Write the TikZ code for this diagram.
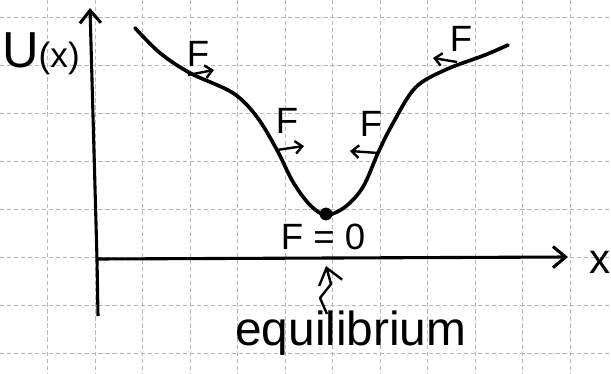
\documentclass[tikz,border=0pt]{standalone}
\usepackage{fontspec}
\setmainfont{Liberation Sans}
\usetikzlibrary{arrows.meta, positioning}
\definecolor{gridGray}{RGB}{185,185,185}

\begin{document}
\begin{tikzpicture}[
    x=0.025cm, y=-0.025cm,
    gridline/.style={gridGray, dash pattern=on 3pt off 2pt, line width=0.5pt},
    axis/.style={line width=2.2pt, -{Straight Barb[length=9pt, width=15pt]}},
    curve/.style={line width=2.6pt, line cap=round},
    force/.style={line width=1.7pt, -{Straight Barb[length=5pt, width=9pt]}},
    pointer/.style={line width=1.7pt, line join=round, -{Straight Barb[length=11pt, width=17pt]}},
    lbl/.style={inner sep=0pt, font=\fontsize{26}{26}\selectfont},
  ]
    \useasboundingbox (0,0) rectangle (611,374);

    % grid paper
    \foreach \gx in {1,...,12}
      \draw[gridline] (47.5*\gx,0) -- (47.5*\gx,374);
    \foreach \gy in {0,...,7}
      \draw[gridline] (0,17+48*\gy) -- (611,17+48*\gy);

    % axes
    \coordinate (orig) at (97,259);
    \coordinate (ytop) at (90,8);
    \coordinate (ybot) at (98,316);
    \coordinate (xtip) at (568,257);
    \draw[line width=2.2pt] (ybot) -- (orig);
    \draw[axis] (orig) -- (ytop);
    \draw[axis] (orig) -- (xtip);

    \node[anchor=base east, inner sep=0pt] (ulbl) at (80,68)
         {{\fontsize{36}{36}\selectfont U}{\fontsize{25}{25}\selectfont (x)}};
    \node[anchor=base, inner sep=0pt, font=\fontsize{30}{30}\selectfont] (xlbl) at (600,273) {x};

    % potential curve
    \draw[curve] plot[smooth, tension=0.55] coordinates {
        (135,28) (160,53) (190,73) (233,93) (257,117) (277,150)
        (293,182) (310,205) (326,215) (345,207) (363,187) (378,153)
        (392,125) (415,88) (445,70) (485,55) (508,45)};

    \node[circle, fill, inner sep=0pt, minimum size=0.32cm] (eqdot) at (326,214) {};

    % forces
    \coordinate (fa1) at (188,75);  \coordinate (fb1) at (214,70);
    \coordinate (fa2) at (277,150); \coordinate (fb2) at (304,146);
    \coordinate (fa3) at (378,153); \coordinate (fb3) at (350,151);
    \coordinate (fa4) at (457,62);  \coordinate (fb4) at (433,58);
    \draw[force] (fa1) -- (fb1);
    \draw[force] (fa2) -- (fb2);
    \draw[force] (fa3) -- (fb3);
    \draw[force] (fa4) -- (fb4);

    \node[lbl] (f1) at (198,54) {F};
    \node[lbl] (f2) at (287,121) {F};
    \node[lbl] (f3) at (371,124) {F};
    \node[lbl] (f4) at (461,39) {F};
    \node[lbl] (fzero) at (323,237) {F = 0};

    % equilibrium marker
    \coordinate (sqbot) at (327,314);
    \coordinate (sqtip) at (326,266);
    \draw[pointer] (sqbot) -- (320,298) -- (331,284) -- (sqtip);
    \node[anchor=base west, inner sep=0pt, font=\fontsize{34}{34}\selectfont] (equil) at (235,345) {equilibrium};
\end{tikzpicture}
\end{document}
